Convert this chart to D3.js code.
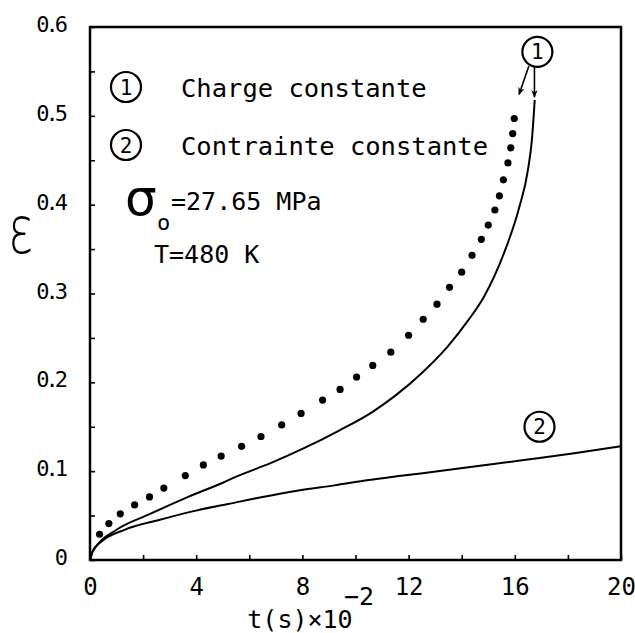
<!DOCTYPE html>
<html lang="fr">
<head>
<meta charset="UTF-8">
<title>Charge / Contrainte constante</title>
<script src="https://cdn.jsdelivr.net/npm/d3@7"></script>
<style>
  body { margin: 0; background: #fff; }
  text { font-family: "DejaVu Sans Mono", monospace; fill: #000; }
</style>
</head>
<body>
<svg id="chart" width="635" height="633"></svg>
<script>
// courbe 1, trait plein (charge constante)
const chargeT   = [0, 0.08, 0.2, 1, 2.2, 3.7, 5, 5.6, 6.8, 8, 9.4, 10.6, 11.5, 12.55, 13.46, 14.25, 14.85, 15.6, 16.15, 16.5, 16.65, 16.75];
const chargeEps = [0, 0.008, 0.014, 0.034, 0.051, 0.071, 0.087, 0.095, 0.109, 0.125, 0.146, 0.166, 0.185, 0.212, 0.24, 0.27, 0.297, 0.346, 0.395, 0.44, 0.475, 0.518];

// courbe 1, points
const dotT   = [0.36, 0.71, 1.14, 1.68, 2.24, 2.78, 3.59, 4.27, 4.94, 5.71, 6.44, 7.22, 7.95, 8.76, 9.42, 10.04, 10.65, 11.33, 12.0, 12.55, 13.07, 13.54, 14.0, 14.39, 14.74, 15.0, 15.25, 15.42, 15.57, 15.74, 15.85, 15.92, 15.98];
const dotEps = [0.029, 0.041, 0.052, 0.062, 0.071, 0.081, 0.095, 0.107, 0.117, 0.128, 0.139, 0.152, 0.165, 0.18, 0.192, 0.206, 0.219, 0.234, 0.253, 0.271, 0.288, 0.307, 0.324, 0.343, 0.361, 0.377, 0.394, 0.41, 0.428, 0.447, 0.464, 0.48, 0.497, 0.515];

// courbe 2 (contrainte constante)
const contrT   = [0, 0.1, 0.4, 1.3, 2.6, 3.9, 5.2, 6.5, 7.8, 9.2, 10.5, 11.8, 13.1, 14.4, 15.7, 17, 18.3, 20];
const contrEps = [0, 0.01, 0.02, 0.034, 0.045, 0.055, 0.063, 0.071, 0.078, 0.084, 0.09, 0.095, 0.1, 0.105, 0.11, 0.115, 0.1205, 0.128];

const xTicks = [0, 2, 4, 6, 8, 10, 12, 14, 16, 18, 20];
const xTickLabels = ["0", "", "4", "", "8", "", "12", "", "16", "", "20"];
const yTicks = [0, 0.05, 0.1, 0.15, 0.2, 0.25, 0.3, 0.35, 0.4, 0.45, 0.5, 0.55, 0.6];
const yTickLabels = ["0", "", "0.1", "", "0.2", "", "0.3", "", "0.4", "", "0.5", "", "0.6"];

const legendItems = ["Charge constante", "Contrainte constante"];

const svg = d3.select("#chart");
const margin = {top: 27, right: 14, bottom: 73, left: 90};
const width = +svg.attr("width") - margin.left - margin.right;
const height = +svg.attr("height") - margin.top - margin.bottom;

const x = d3.scaleLinear().domain([0, 20]).range([0, width]);
const y = d3.scaleLinear().domain([0, 0.6]).range([height, 0]);

const g = svg.append("g").attr("transform", `translate(${margin.left},${margin.top})`);

// axes, graduations vers l'interieur
const xAxis = d3.axisBottom(x).tickValues(xTicks)
  .tickFormat((d, i) => xTickLabels[i]).tickSizeInner(-5).tickSizeOuter(0).tickPadding(18);
const gx = g.append("g").attr("transform", `translate(0,${height})`).call(xAxis);
gx.selectAll("text").style("font-size", "24px");

const yAxis = d3.axisLeft(y).tickValues(yTicks)
  .tickFormat("").tickSizeInner(-5).tickSizeOuter(0);
g.append("g").call(yAxis);

// etiquettes de l'axe y
g.selectAll(".ylab").data(d3.zip(yTicks, yTickLabels).filter(d => d[1] !== ""))
  .join("text").attr("class", "ylab")
  .attr("x", -26).attr("y", d => y(d[0]) + 5)
  .attr("text-anchor", "end")
  .style("font-size", "22px").style("letter-spacing", "-4px")
  .text(d => d[1]);

g.selectAll(".domain").remove();
g.selectAll(".tick line").attr("stroke", "#000").attr("stroke-width", 1.6);

// cadre
g.append("rect").attr("x", 0).attr("y", 0).attr("width", width).attr("height", height)
  .attr("fill", "none").attr("stroke", "#000").attr("stroke-width", 2.5);

// courbes
const line = d3.line().x(d => x(d[0])).y(d => y(d[1])).curve(d3.curveMonotoneX);
g.append("path").datum(d3.zip(chargeT, chargeEps)).attr("d", line)
  .attr("fill", "none").attr("stroke", "#000").attr("stroke-width", 2);
g.append("path").datum(d3.zip(contrT, contrEps)).attr("d", line)
  .attr("fill", "none").attr("stroke", "#000").attr("stroke-width", 2);

g.selectAll(".dot").data(d3.zip(dotT, dotEps)).join("circle").attr("class", "dot")
  .attr("cx", d => x(d[0])).attr("cy", d => y(d[1])).attr("r", 3.6).attr("fill", "#000");

// numeros cercles
function circled(cx, cy, label) {
  g.append("circle").attr("cx", cx).attr("cy", cy).attr("r", 15)
    .attr("fill", "#fff").attr("stroke", "#000").attr("stroke-width", 2.2);
  g.append("text").attr("x", cx).attr("y", cy).attr("dy", "0.36em")
    .attr("text-anchor", "middle").style("font-size", "21px").text(label);
}

svg.append("defs").append("marker").attr("id", "arrow")
  .attr("viewBox", "0 0 10 10").attr("refX", 9).attr("refY", 5)
  .attr("markerWidth", 5).attr("markerHeight", 6).attr("orient", "auto")
  .append("path").attr("d", "M0,1 L10,5 L0,9 L3,5 Z").attr("fill", "#000");

const arrows = [[[16.53, 0.556], [16.16, 0.524]], [[16.74, 0.555], [16.74, 0.521]]];
arrows.forEach(a => {
  g.append("line").attr("x1", x(a[0][0])).attr("y1", y(a[0][1]))
    .attr("x2", x(a[1][0])).attr("y2", y(a[1][1]))
    .attr("stroke", "#000").attr("stroke-width", 1.6).attr("marker-end", "url(#arrow)");
});
circled(x(16.85), y(0.572), "1");
circled(x(16.93), y(0.150), "2");

// legende
legendItems.forEach((t, i) => {
  const cy = 60 + i * 58;
  circled(126 - margin.left, cy, String(i + 1));
  g.append("text").attr("x", 181 - margin.left).attr("y", cy + 10)
    .style("font-size", "25.5px").text(t);
});

// sigma_0 et T
const sig = svg.append("text");
sig.append("tspan").attr("x", 125).attr("y", 215)
  .style("font-family", "DejaVu Sans").style("font-size", "50px").text("σ");
sig.append("tspan").attr("x", 157).attr("y", 230).style("font-size", "22px").text("o");
sig.append("tspan").attr("x", 171).attr("y", 210).style("font-size", "25px").text("=27.65 MPa");
svg.append("text").attr("x", 154).attr("y", 263).style("font-size", "25px").text("T=480 K");

// titres des axes
svg.append("text").attr("transform", "translate(8,253) scale(0.72,1)")
  .style("font-family", "DejaVu Sans").style("font-weight", 200)
  .style("font-size", "66px").text("ε");
svg.append("text").attr("x", 300).attr("y", 628).attr("text-anchor", "middle")
  .style("font-size", "25px").text("t(s)×10");
svg.append("text").attr("x", 344).attr("y", 605).style("font-size", "25px").text("−2");
</script>
</body>
</html>
